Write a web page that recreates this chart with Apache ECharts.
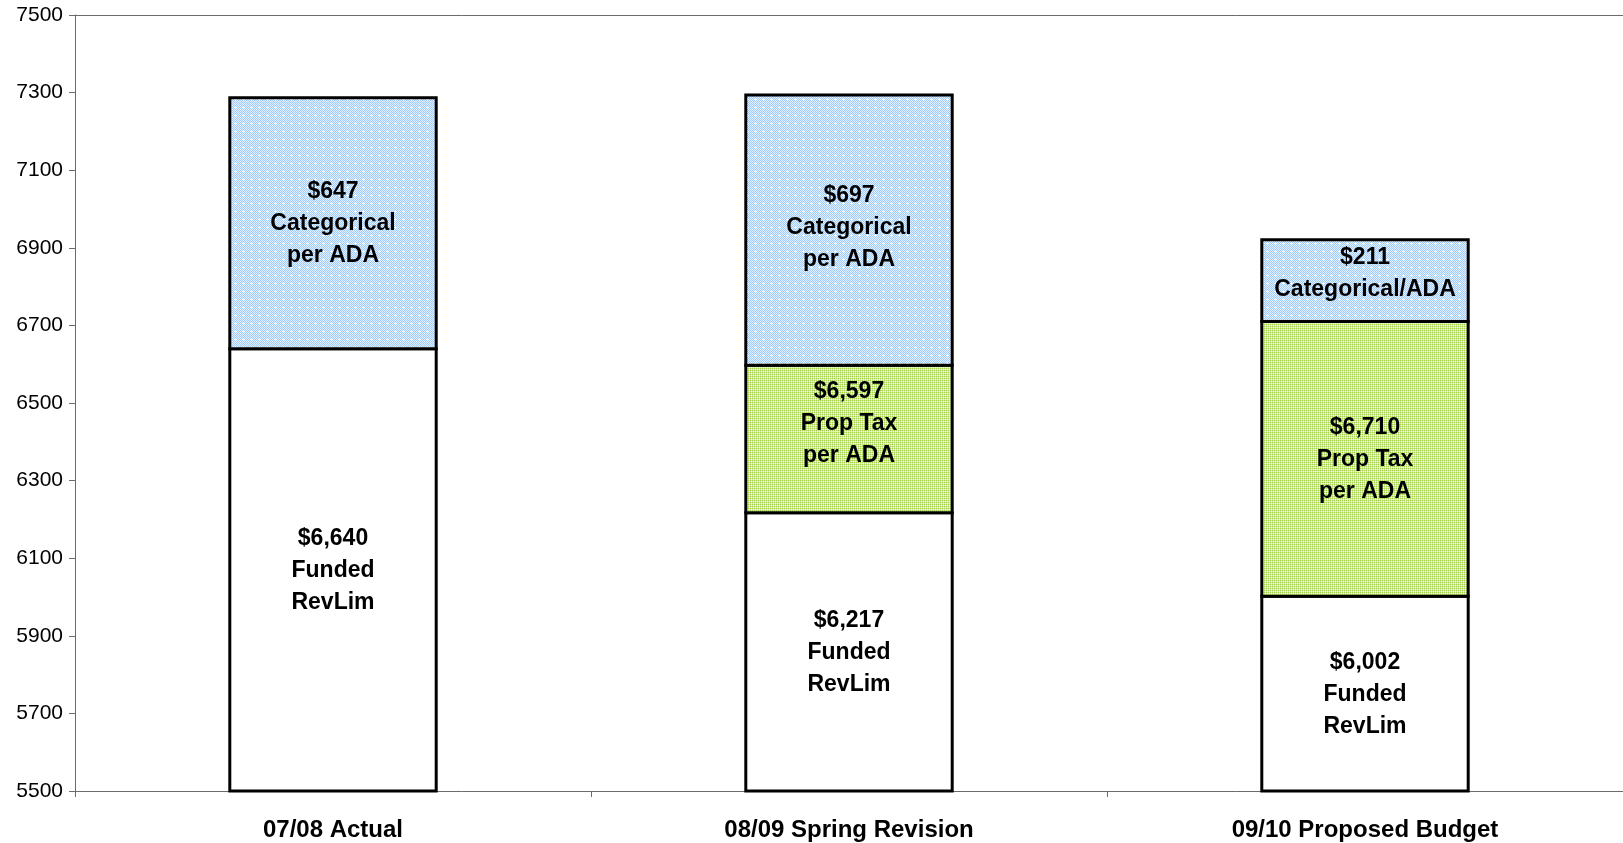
<!DOCTYPE html>
<html><head><meta charset="utf-8">
<script src="https://cdn.jsdelivr.net/npm/echarts@6/dist/echarts.min.js"></script>
<style>html,body{margin:0;padding:0;background:#fff}#c{width:1623px;height:843px}</style>
</head><body><div id="c"></div>
<script>
const categories = ['07/08 Actual', '08/09 Spring Revision', '09/10 Proposed Budget'];
const fundedRevLim = [6640, 6217, 6002];
const propTaxTotal = [null, 6597, 6710];
const categoricalPerADA = [647, 697, 211];
const categoricalNames = ['Categorical\nper ADA', 'Categorical\nper ADA', 'Categorical/ADA'];
const yTicks = { min: 5500, max: 7500, step: 200 };

function fmt(v) { return '$' + v.toLocaleString('en-US'); }

function blueTile() {
  const c = document.createElement('canvas'); c.width = 8; c.height = 8;
  const g = c.getContext('2d');
  for (let y = 0; y < 8; y++) for (let x = 0; x < 8; x++) {
    g.fillStyle = ((x + y) % 2 === 0) ? '#9fcbfd' : '#e6f1ff';
    g.fillRect(x, y, 1, 1);
  }
  g.fillStyle = '#ffffff';
  g.fillRect(3, 2, 1, 3); g.fillRect(2, 3, 3, 1);
  return c;
}
function greenTile() {
  const c = document.createElement('canvas'); c.width = 2; c.height = 2;
  const g = c.getContext('2d');
  g.fillStyle = '#f4faea'; g.fillRect(0, 0, 2, 2);
  g.fillStyle = '#a6d248'; g.fillRect(0, 0, 1, 1);
  g.fillStyle = '#d3eaa6'; g.fillRect(1, 0, 1, 1); g.fillRect(0, 1, 1, 1);
  return c;
}

const font = '"Liberation Sans", Arial, sans-serif';

// Build segments [category index, low, high] from the arrays
const segFunded = fundedRevLim.map((v, i) => [i, 0, v]);
const segProp = propTaxTotal.map((t, i) => t == null ? [i, fundedRevLim[i], fundedRevLim[i]] : [i, fundedRevLim[i], t]);
const segCat = categoricalPerADA.map((v, i) => {
  const base = propTaxTotal[i] == null ? fundedRevLim[i] : propTaxTotal[i];
  return [i, base, base + v];
});

const fundedText = fundedRevLim.map(v => fmt(v) + '\nFunded\nRevLim');
const propText = propTaxTotal.map(t => t == null ? '' : fmt(t) + '\nProp Tax\nper ADA');
const catText = categoricalPerADA.map((v, i) => fmt(v) + '\n' + categoricalNames[i]);

const fundedOffsets = [[0, 1], [0, 1], [0, 1]];
const propOffsets = [[0, 0], [0, -15], [0, 1]];
const catOffsets = [[0, 0], [0, -2], [0, -7]];

function makeRender(fill, texts, offsets) {
  return function (params, api) {
    const i = params.dataIndex;
    const lo = api.value(1), hi = api.value(2);
    if (hi <= lo) return null;
    const x = api.value(0);
    const pLo = api.coord([x, lo]);
    const pHi = api.coord([x, hi]);
    const w = api.size([1, 0])[0] * 0.4;
    const rect = echarts.graphic.clipRectByRect({
      x: pLo[0] - w / 2, y: pHi[1], width: w, height: pLo[1] - pHi[1]
    }, params.coordSys);
    if (!rect) return null;
    return {
      type: 'rect', shape: rect,
      style: { fill: fill, stroke: '#000', lineWidth: 3 },
      textContent: {
        style: {
          text: texts[i], fill: '#000', fontSize: 23, fontWeight: 'bold',
          fontFamily: font, lineHeight: 32, align: 'center', verticalAlign: 'middle'
        }
      },
      textConfig: { position: 'inside', offset: offsets[i] }
    };
  };
}

const chart = echarts.init(document.getElementById('c'));
chart.setOption({
  animation: false,
  grid: { left: 75, right: 0, top: 15, bottom: 52 },
  xAxis: [{
    type: 'category', data: categories,
    axisLine: { lineStyle: { color: '#6b6b6b', width: 1 } },
    axisTick: { show: true, alignWithLabel: false, length: 6, lineStyle: { color: '#6b6b6b' } },
    axisLabel: { color: '#000', fontWeight: 'bold', fontSize: 24, fontFamily: font, margin: 27 }
  }, {
    type: 'category', data: categories, position: 'top',
    axisLine: { show: true, lineStyle: { color: '#6b6b6b', width: 1 } },
    axisTick: { show: false }, axisLabel: { show: false }
  }],
  yAxis: {
    type: 'value', min: yTicks.min, max: yTicks.max, interval: yTicks.step,
    axisLine: { show: true, lineStyle: { color: '#6b6b6b', width: 1 } },
    axisTick: { show: true, length: 6, lineStyle: { color: '#6b6b6b' } },
    splitLine: { show: false },
    axisLabel: { color: '#000', fontSize: 21, fontFamily: font, margin: 12, formatter: v => String(v) }
  },
  series: [{
    name: 'Funded RevLim', type: 'custom', data: segFunded, z: 2,
    encode: { x: 0, y: [1, 2] },
    renderItem: makeRender('#ffffff', fundedText, fundedOffsets)
  }, {
    name: 'Prop Tax per ADA', type: 'custom', data: segProp, z: 3,
    encode: { x: 0, y: [1, 2] },
    renderItem: makeRender({ image: greenTile(), repeat: 'repeat' }, propText, propOffsets)
  }, {
    name: 'Categorical per ADA', type: 'custom', data: segCat, z: 4,
    encode: { x: 0, y: [1, 2] },
    renderItem: makeRender({ image: blueTile(), repeat: 'repeat' }, catText, catOffsets)
  }]
});
</script></body></html>
